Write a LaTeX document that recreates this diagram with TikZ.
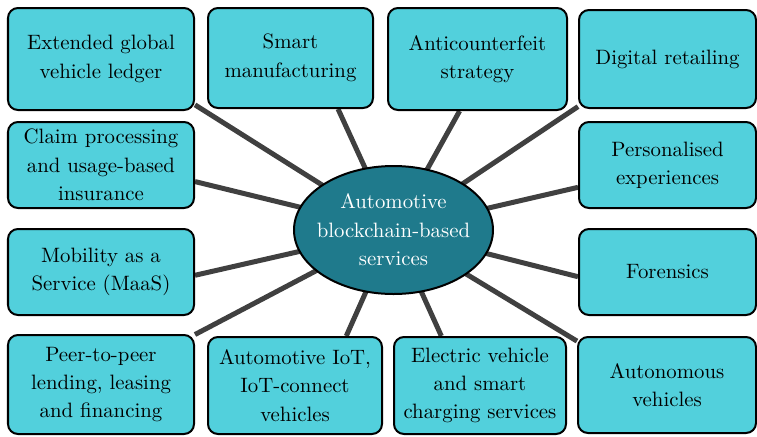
\documentclass[tikz,border=0pt]{standalone}
\usepackage{xcolor}
\usetikzlibrary{shapes.geometric, backgrounds}

\definecolor{boxcyan}{HTML}{52D0DC}
\definecolor{hubteal}{HTML}{1F7A8C}
\definecolor{linkgray}{HTML}{404040}

\begin{document}
\begin{tikzpicture}[
  x=0.5pt, y=-0.5pt,
  service/.style={
    rectangle,
    draw,
    line width=1pt,
    rounded corners=5pt,
    fill=boxcyan,
    align=center,
    inner sep=0pt,
    font=\fontsize{10.4}{14.2}\selectfont,
  },
  hub/.style={
    ellipse,
    draw,
    line width=1pt,
    fill=hubteal,
    text=white,
    align=center,
    minimum width=99.5pt,
    minimum height=64pt,
    inner xsep=-5pt,
    inner ysep=0pt,
    font=\fontsize{10.4}{14.2}\selectfont,
  },
  link/.style={draw=linkgray, line width=2.5pt}
]
\useasboundingbox (0,0) rectangle (757,436);

% ===== CENTRAL NODE =====
\node[hub] (hub) at (393.5,230) {Automotive\\blockchain-based\\services};

% ===== TOP ROW =====
\node[service, minimum width=93pt, minimum height=51pt] (ledger) at (101,59) {Extended global\\vehicle ledger};
\node[service, minimum width=82.5pt, minimum height=50pt] (manuf) at (290.5,58) {Smart\\manufacturing};
\node[service, minimum width=89.5pt, minimum height=51pt] (anti) at (477.5,59) {Anticounterfeit\\strategy};
\node[service, minimum width=88.5pt, minimum height=49pt] (retail) at (667.5,59) {Digital retailing};

% ===== SIDE COLUMNS =====
\node[service, minimum width=93pt, minimum height=43pt] (claim) at (101,165) {Claim processing\\and usage-based\\insurance};
\node[service, minimum width=88.5pt, minimum height=43pt] (pers) at (667.5,165) {Personalised\\experiences};
\node[service, minimum width=93pt, minimum height=43pt] (maas) at (101,272) {Mobility as a\\Service (MaaS)};
\node[service, minimum width=88.5pt, minimum height=43pt] (foren) at (667.5,272) {Forensics};

% ===== BOTTOM ROW =====
\node[service, minimum width=93pt, minimum height=49.5pt] (peer) at (101,384.5) {Peer-to-peer\\lending, leasing\\and financing};
\node[service, minimum width=87pt, minimum height=48.5pt] (iot) at (295,385.5) {Automotive IoT,\\IoT-connect\\vehicles};
\node[service, minimum width=86pt, minimum height=48.5pt] (charge) at (480,385.5) {Electric vehicle\\and smart\\charging services};
\node[service, minimum width=89pt, minimum height=48pt] (auto) at (667,385) {Autonomous\\vehicles};

% ===== SPOKES (behind the nodes) =====
\begin{pgfonlayer}{background}
\draw[link] (hub.center) -- (ledger.-26);
\draw[link] (hub.center) -- (manuf.-47);
\draw[link] (hub.center) -- (anti.-109);
\draw[link] (hub.center) -- (retail.-152);
\draw[link] (hub.center) -- (claim.-10);
\draw[link] (hub.center) -- (pers.-166);
\draw[link] (hub.center) -- (maas.-2);
\draw[link] (hub.center) -- (foren.-177);
\draw[link] (hub.center) -- (peer.28);
\draw[link] (hub.center) -- (iot.44);
\draw[link] (hub.center) -- (charge.128);
\draw[link] (hub.center) -- (auto.154);
\end{pgfonlayer}

\end{tikzpicture}
\end{document}
